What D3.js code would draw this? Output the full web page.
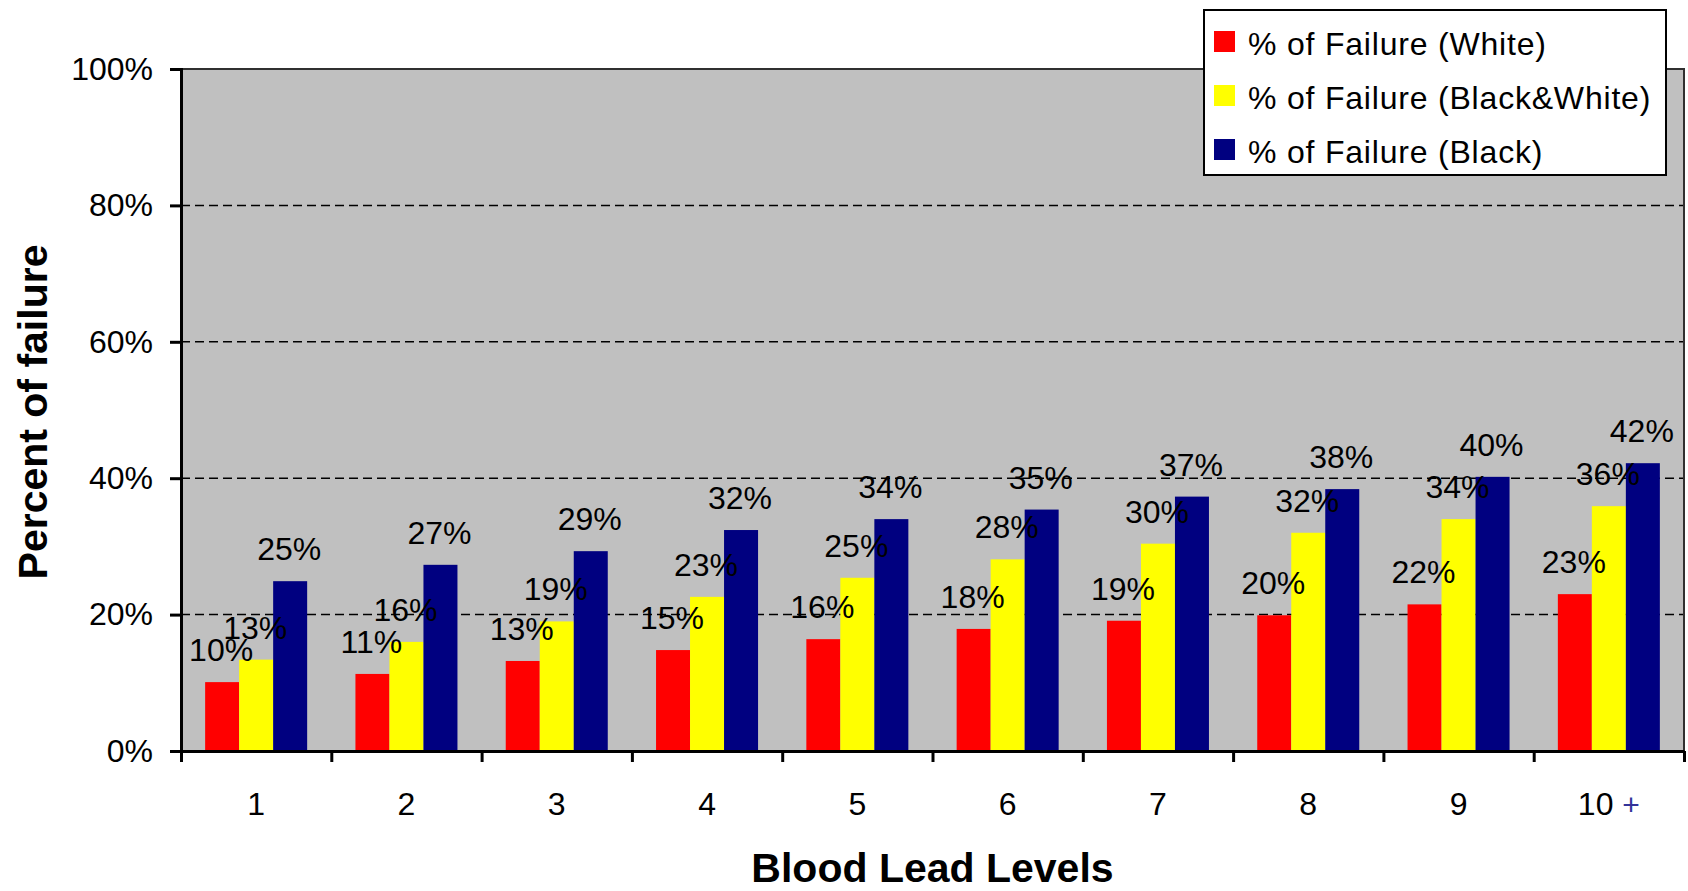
<!DOCTYPE html>
<html>
<head>
<meta charset="utf-8">
<script src="https://cdn.jsdelivr.net/npm/d3@7"></script>
<style>
  html, body { margin: 0; padding: 0; background: #fff; }
  svg { display: block; font-family: "Liberation Sans", Arial, sans-serif; }
</style>
</head>
<body>
<svg id="chart" width="1688" height="891"></svg>
<script>
// Blood lead level categories and failure rates per group
const categories = ["1", "2", "3", "4", "5", "6", "7", "8", "9", "10 +"];
const seriesNames = ["% of Failure (White)", "% of Failure (Black&White)", "% of Failure (Black)"];
const white      = [0.101, 0.113, 0.132, 0.148, 0.164, 0.179, 0.191, 0.199, 0.215, 0.230];
const blackWhite = [0.134, 0.160, 0.190, 0.226, 0.254, 0.281, 0.304, 0.320, 0.340, 0.359];
const black      = [0.249, 0.273, 0.293, 0.324, 0.340, 0.354, 0.373, 0.384, 0.402, 0.422];
const yTicks = [0, 0.2, 0.4, 0.6, 0.8, 1.0];
const colors = ["#FF0000", "#FFFF00", "#000080"];

const seriesValues = [white, blackWhite, black];
const rows = categories.map((c, i) => ({
  cat: c,
  values: seriesNames.map((s, j) => ({ series: s, idx: j, value: seriesValues[j][i] }))
}));

const svg = d3.select("#chart");
const margin = { left: 181, right: 4, top: 69, bottom: 140 };
const W = 1688 - margin.left - margin.right;
const H = 891 - margin.top - margin.bottom;

const g = svg.append("g").attr("transform", `translate(${margin.left},${margin.top})`);

const x0 = d3.scaleBand().domain(categories).range([0, W]).paddingInner(0).paddingOuter(0);
const x1 = d3.scaleBand().domain(seriesNames).range([0, x0.bandwidth()]).paddingInner(0).paddingOuter(0.71);
const y = d3.scaleLinear().domain([0, 1]).range([H, 0]);
const fmt = d3.format(".0%");

// Plot background
g.append("rect")
  .attr("x", 0).attr("y", 0).attr("width", W).attr("height", H)
  .attr("fill", "#C0C0C0");

// Dashed gridlines
g.append("g")
  .selectAll("line")
  .data(yTicks.filter(t => t > 0 && t < 1))
  .join("line")
  .attr("x1", 0).attr("x2", W)
  .attr("y1", d => y(d)).attr("y2", d => y(d))
  .attr("stroke", "#000").attr("stroke-width", 1.5)
  .attr("stroke-dasharray", "9,5");

// Plot frame (top and right)
g.append("path")
  .attr("d", `M0,0H${W}V${H}`)
  .attr("fill", "none").attr("stroke", "#303030").attr("stroke-width", 2);

// Bars
const groups = g.append("g")
  .selectAll("g")
  .data(rows)
  .join("g")
  .attr("transform", d => `translate(${x0(d.cat)},0)`);

groups.selectAll("rect")
  .data(d => d.values)
  .join("rect")
  .attr("x", d => x1(d.series))
  .attr("width", x1.bandwidth())
  .attr("y", d => y(d.value))
  .attr("height", d => H - y(d.value))
  .attr("fill", d => colors[d.idx]);

// Value labels
groups.selectAll("text")
  .data(d => d.values)
  .join("text")
  .attr("x", d => x1(d.series) + x1.bandwidth() / 2 - 1)
  .attr("y", d => y(d.value) - 21)
  .attr("text-anchor", "middle")
  .attr("font-size", 32)
  .attr("fill", "#000")
  .text(d => fmt(d.value));

// Y axis
const yAxis = g.append("g")
  .call(d3.axisLeft(y).tickValues(yTicks).tickFormat(fmt).tickSize(11).tickPadding(17));
yAxis.select(".domain").attr("stroke", "#000").attr("stroke-width", 3);
yAxis.selectAll(".tick line").attr("stroke", "#000").attr("stroke-width", 3);
yAxis.selectAll(".tick text")
  .attr("font-size", 32).attr("fill", "#000")
  .attr("font-family", "'Liberation Sans', Arial, sans-serif");

// X axis: tick marks on category boundaries
const xb = d3.scaleLinear().domain([0, categories.length]).range([0, W]);
const xTickAxis = g.append("g")
  .attr("transform", `translate(0,${H})`)
  .call(d3.axisBottom(xb).tickValues(d3.range(categories.length + 1)).tickFormat("").tickSize(11).tickSizeOuter(0));
xTickAxis.select(".domain").attr("stroke", "#000").attr("stroke-width", 3);
xTickAxis.selectAll(".tick line").attr("stroke", "#000").attr("stroke-width", 3);

// X axis: category labels at band centres
const xLabelAxis = g.append("g")
  .attr("transform", `translate(0,${H})`)
  .call(d3.axisBottom(x0).tickSize(0).tickPadding(41));
xLabelAxis.select(".domain").remove();
xLabelAxis.selectAll(".tick text")
  .attr("font-size", 32).attr("fill", "#000")
  .attr("font-family", "'Liberation Sans', Arial, sans-serif")
  .each(function(d) {
    const t = d3.select(this);
    if (d.endsWith(" +")) {
      t.text(d.slice(0, -1));
      t.append("tspan").attr("fill", "#333399").attr("font-size", 30).attr("font-weight", 300).text("+");
    }
  });

// Axis titles
svg.append("text")
  .attr("x", margin.left + W / 2)
  .attr("y", 882)
  .attr("text-anchor", "middle")
  .attr("font-size", 41).attr("font-weight", "bold")
  .text("Blood Lead Levels");

svg.append("text")
  .attr("transform", `translate(47,${margin.top + H / 2 + 2}) rotate(-90)`)
  .attr("text-anchor", "middle")
  .attr("font-size", 41).attr("font-weight", "bold")
  .text("Percent of failure");

// Legend
const legend = svg.append("g").attr("transform", "translate(1204,10)");
legend.append("rect")
  .attr("width", 462).attr("height", 165)
  .attr("fill", "#fff").attr("stroke", "#000").attr("stroke-width", 2);
const items = legend.selectAll("g.item")
  .data(seriesNames)
  .join("g").attr("class", "item")
  .attr("transform", (d, i) => `translate(0,${21 + i * 54})`);
items.append("rect")
  .attr("x", 10).attr("width", 21).attr("height", 21)
  .attr("fill", (d, i) => colors[i]);
items.append("text")
  .attr("x", 44).attr("y", 24)
  .attr("font-size", 32).attr("letter-spacing", 0.8).attr("fill", "#000")
  .text(d => d);
</script>
</body>
</html>
